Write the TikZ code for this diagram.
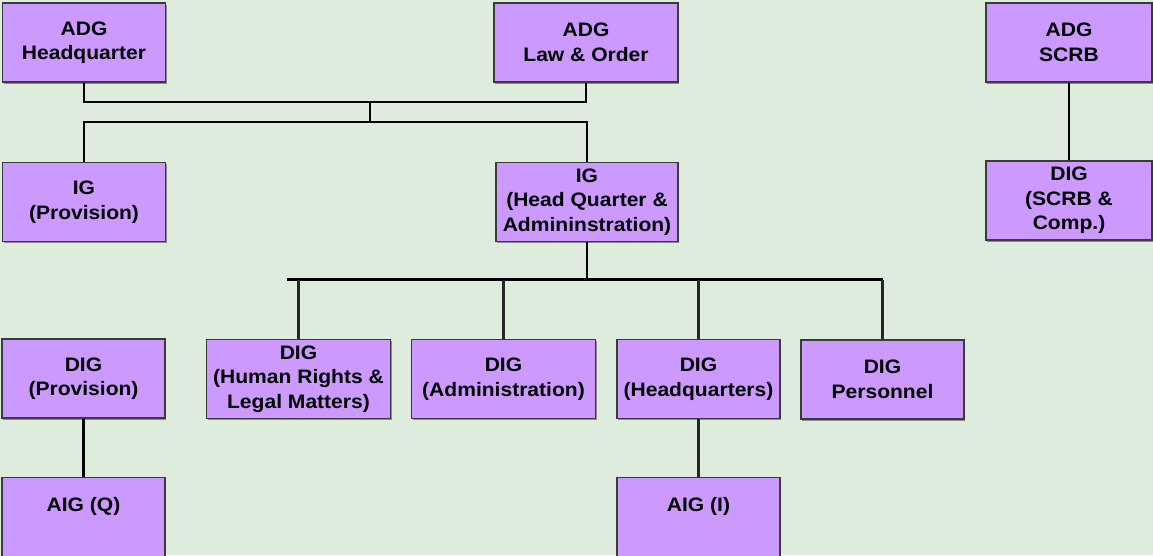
\documentclass[tikz,border=0pt]{standalone}
\usepackage{fontspec}
\setmainfont[FakeStretch=1.08]{Liberation Sans}
\usetikzlibrary{calc}
\usetikzlibrary{positioning}
\usetikzlibrary{shadows}
\definecolor{bggreen}{HTML}{DDECDD}
\definecolor{boxviolet}{HTML}{CC99FF}
\definecolor{boxline}{HTML}{3A3A3A}

\begin{document}
\begin{tikzpicture}[x=1pt, y=-1pt,
  every node/.style={draw=boxline, line width=1.2pt, fill=boxviolet,
    font=\bfseries\fontsize{19.5}{24.5}\selectfont, align=center, inner sep=0pt,
    minimum height=79pt,
    drop shadow={shadow xshift=1.2pt, shadow yshift=-1.5pt, fill=black!45, opacity=1}},
  narrow/.style={minimum width=163pt},
  wide/.style={minimum width=184pt},
  link/.style={draw=black, line width=2.8pt},
  drop/.style={draw=black!85, line width=2.2pt}]
  \fill[bggreen] (0,0) rectangle (1153,555);
  \useasboundingbox (0,0) rectangle (1153,555);

  % top level
  \node[narrow] (hq) at (84,42.5) {ADG\\Headquarter};
  \node[wide] (lo) at (586,42.5) {ADG\\Law \& Order};
  \node[narrow, minimum width=166pt] (scrb) at (1069,42.5) {ADG\\SCRB};

  % IG level
  \node[narrow] (igp) at (84,202) {IG\\(Provision)};
  \node[wide, minimum width=182pt] (igh) at (587,202) {IG\\(Head Quarter \&\\Admininstration)};
  \node[narrow, minimum width=166pt] (digs) at (1069,200.5) {DIG\\(SCRB \&\\Comp.)};

  % DIG level
  \node[narrow] (digp) at (83.5,378.5) {DIG\\(Provision)};
  \node[wide] (dighr) at (298.5,379) {DIG\\(Human Rights \&\\Legal Matters)};
  \node[wide] (diga) at (503.5,379) {DIG\\(Administration)};
  \node[narrow] (digh) at (698.5,379) {DIG\\(Headquarters)};
  \node[narrow] (digpe) at (882.5,379.5) {DIG\\Personnel};

  % AIG level
  \node[narrow] (aigq) at (83.5,517) {AIG (Q)\\\mbox{}};
  \node[narrow] (aigi) at (698.5,517) {AIG (I)\\\mbox{}};

  \coordinate (top) at (370,102);
  \coordinate (mid) at (370,122);
  \draw[link] (hq.south) |- (top) -| (lo.south);
  \draw[link] (top) -- (mid);
  \draw[link] (igp.north) |- (mid) -| (igh.north);
  \draw[link] (scrb) -- (digs);

  \coordinate (bus) at ($(igh.south)+(0,37.5)$);
  \coordinate (busl) at (287,0 |- bus);
  \draw[link] (igh.south) -- (bus);
  \draw[link, line width=3.2pt] (busl) -- (digpe.north |- bus);
  \foreach \n in {dighr, diga, digh, digpe}
    \draw[drop] (\n.north) -- (\n.north |- bus);

  \draw[link] (digp) -- (aigq);
  \draw[drop] (digh) -- (aigi);
\end{tikzpicture}
\end{document}
